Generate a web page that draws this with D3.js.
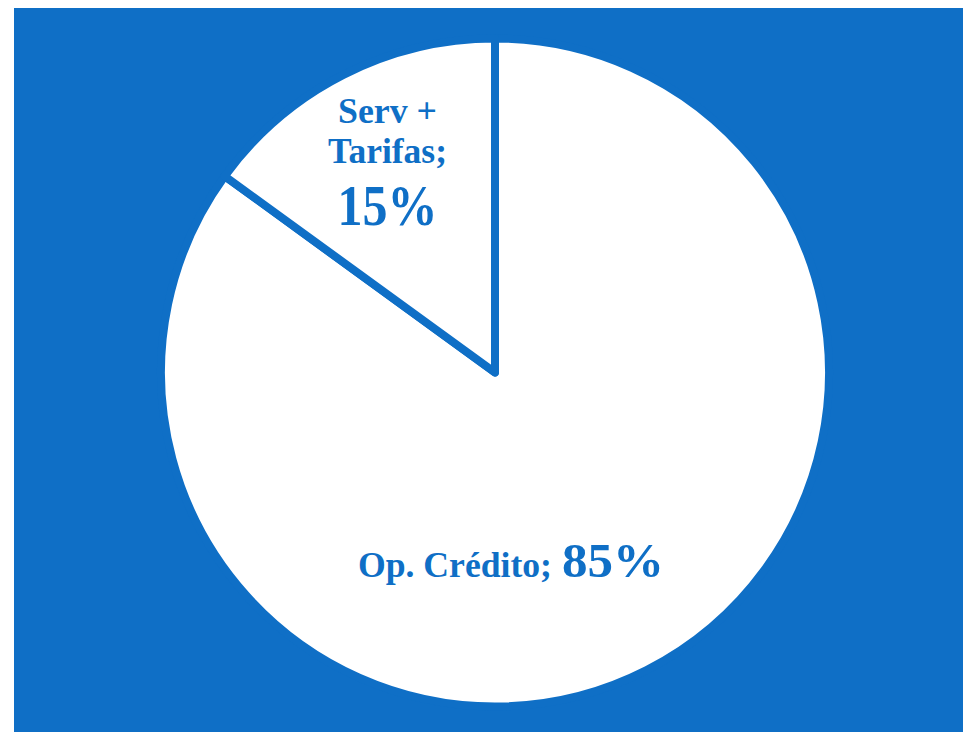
<!DOCTYPE html>
<html>
<head>
<meta charset="utf-8">
<script src="https://cdn.jsdelivr.net/npm/d3@7"></script>
<style>
  html, body { margin: 0; padding: 0; background: #ffffff; }
  svg { display: block; }
  text { font-family: "Palatino Linotype", "Book Antiqua", Palatino, "Liberation Serif", serif; font-weight: bold; }
</style>
</head>
<body>
<svg id="chart" width="963" height="732"></svg>
<script>
// Revenue composition
const categories = ["Op. Crédito", "Serv + Tarifas"];
const values = [85, 15];
const percentLabels = ["85%", "15%"];

const W = 963, H = 732;
const blue = "#0F6FC6";
const svg = d3.select("#chart");

// chart area background
svg.append("rect")
  .attr("x", 14).attr("y", 8)
  .attr("width", W - 14).attr("height", H - 8)
  .attr("fill", blue);

const cx = 495, cy = 372.5, R = 334;
const g = svg.append("g").attr("transform", `translate(${cx},${cy})`);

const pie = d3.pie().sort(null).value(d => d.value);
const arcs = pie(categories.map((c, i) => ({ name: c, value: values[i], pct: percentLabels[i] })));
const arc = d3.arc().innerRadius(0).outerRadius(R);

g.selectAll("path.slice")
  .data(arcs)
  .join("path")
  .attr("class", "slice")
  .attr("d", arc)
  .attr("fill", "#ffffff")
  .attr("stroke", blue)
  .attr("stroke-width", 8)
  .attr("stroke-linejoin", "round");

// helper: one line of label text stretched to a fixed width
function line(x, y, size, anchor, width, str) {
  return g.append("text")
    .attr("x", x).attr("y", y)
    .attr("text-anchor", anchor)
    .attr("font-size", size)
    .attr("fill", blue)
    .attr("textLength", width)
    .attr("lengthAdjust", "spacingAndGlyphs")
    .text(str);
}

// Op. Crédito label: name + large percentage on one line
const big = arcs[0];
line(-137, 204.5, 35, "start", 194, big.data.name + ";");
line(67, 204.5, 49, "start", 102, big.data.pct);

// Serv + Tarifas label: wrapped over three lines
const small = arcs[1];
const lx = -107.5;
const words = small.data.name.split(" ");
line(lx, -250, 35, "middle", 99, words.slice(0, 2).join(" "));
line(lx, -209.5, 35, "middle", 119, words[2] + ";");
line(lx, -147.5, 57, "middle", 100, small.data.pct);
</script>
</body>
</html>
